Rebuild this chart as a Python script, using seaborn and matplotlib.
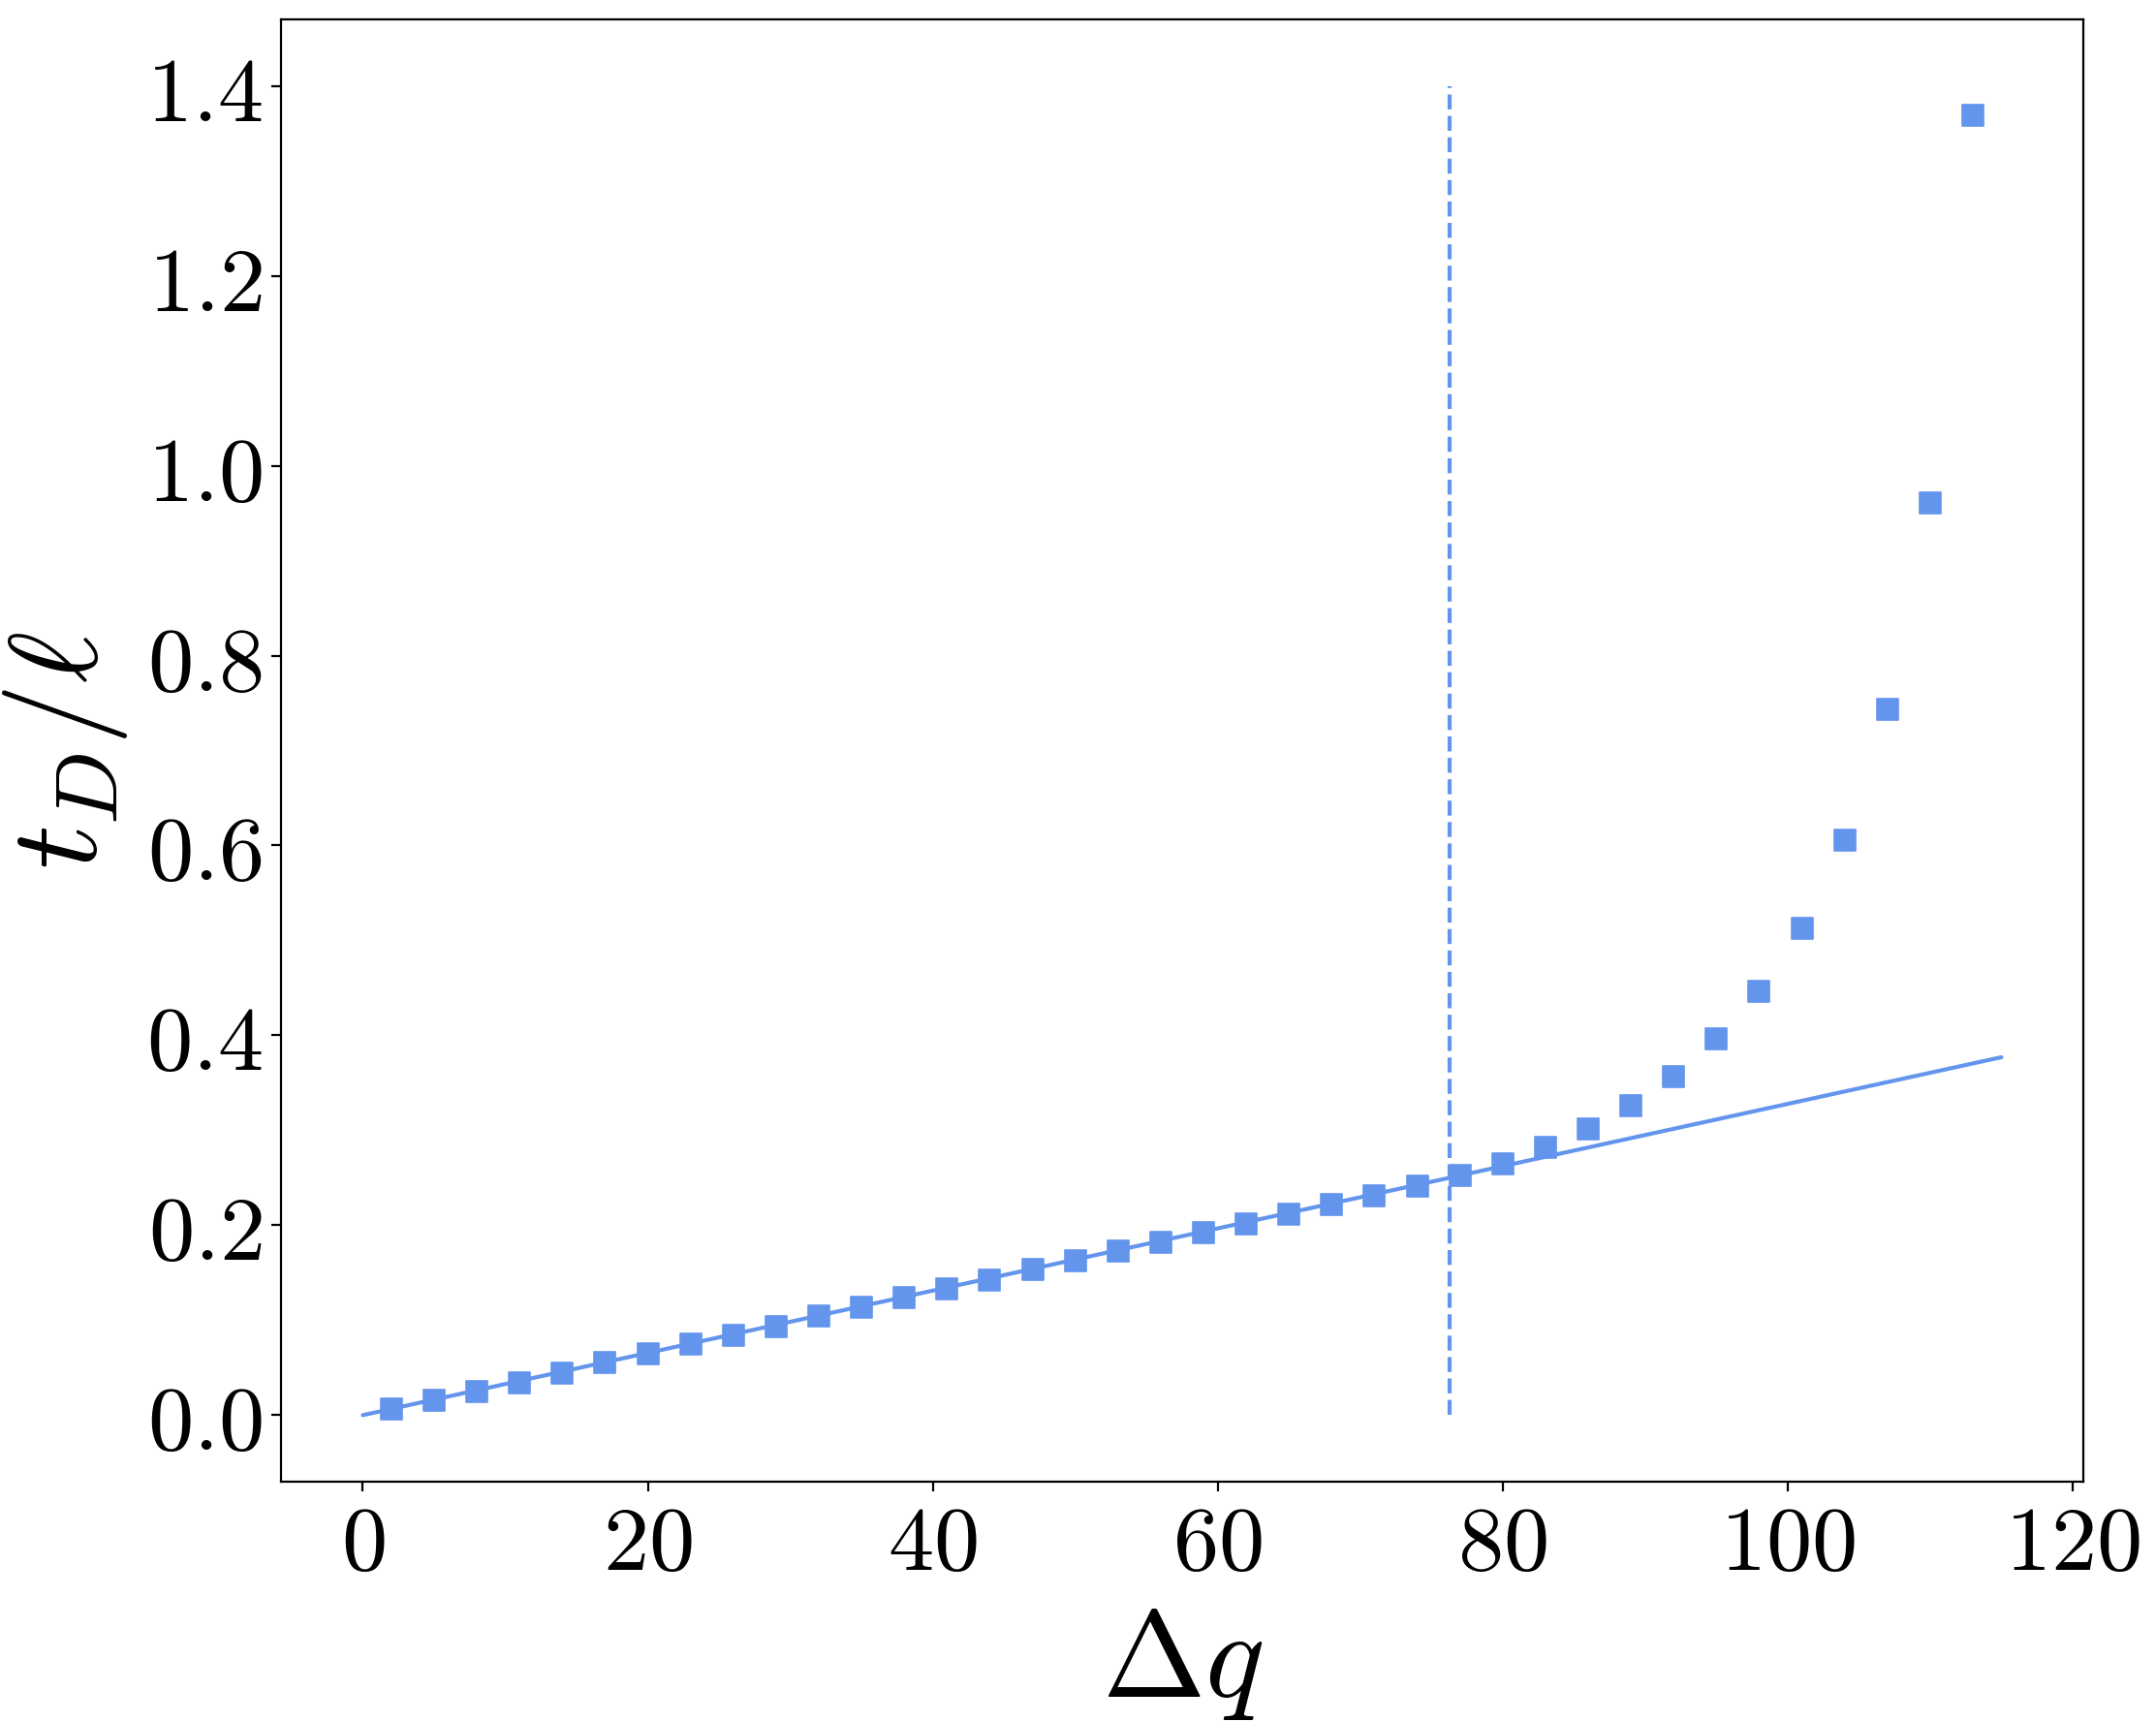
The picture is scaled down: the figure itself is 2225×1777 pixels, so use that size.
import numpy as np
import pandas as pd
import matplotlib
matplotlib.use("Agg")
import matplotlib.pyplot as plt
from matplotlib.ticker import FuncFormatter
import seaborn as sns

# Data
delta_q = [2, 5, 8, 11, 14, 17, 20, 23, 26, 29, 32, 35, 38, 41, 44, 47, 50, 53, 56,
           59, 62, 65, 68, 71, 74, 77, 80, 83, 86, 89, 92, 95, 98, 101, 104, 107, 110, 113]
t_over_l = [0.006, 0.016, 0.025, 0.034, 0.044, 0.055, 0.065, 0.075, 0.084, 0.093,
            0.104, 0.114, 0.124, 0.133, 0.142, 0.153, 0.163, 0.173, 0.182, 0.192,
            0.201, 0.212, 0.222, 0.231, 0.241, 0.252, 0.265, 0.282, 0.301, 0.326,
            0.357, 0.396, 0.446, 0.513, 0.606, 0.743, 0.961, 1.369]
fit_x = [0, 115]
fit_y = [0.0, 0.377]
vline_x = 76.3
vline_y = [0.0, 1.4]

color = "cornflowerblue"

sns.set_theme(style="ticks", rc={"text.color": "black", "axes.labelcolor": "black",
                                 "xtick.color": "black", "ytick.color": "black",
                                 "axes.edgecolor": "black"})
plt.rcParams["mathtext.fontset"] = "cm"
plt.rcParams["font.family"] = ["DejaVu Sans"]

fig = plt.figure(figsize=(11.125, 8.885), dpi=200)
ax = fig.add_axes([0.1303, 0.1396, 0.836, 0.8491])

df = pd.DataFrame({"dq": delta_q, "t": t_over_l})
fit_df = pd.DataFrame({"dq": fit_x, "t": fit_y})

sns.lineplot(data=fit_df, x="dq", y="t", ax=ax, color=color, lw=1.5)
ax.plot([vline_x, vline_x], vline_y, color=color, lw=1.5, ls="--")
sns.scatterplot(data=df, x="dq", y="t", ax=ax, marker="s", s=62,
                color=color, edgecolor=color, linewidth=0.6, zorder=3)

ax.set_yticks([0.0, 0.2, 0.4, 0.6, 0.8, 1.0, 1.2, 1.4])
ax.set_xticks([0, 20, 40, 60, 80, 100, 120])
ax.xaxis.set_major_formatter(FuncFormatter(lambda v, p: r"$%d$" % int(round(v))))
ax.yaxis.set_major_formatter(FuncFormatter(lambda v, p: r"$%.1f$" % v))
ax.tick_params(axis="both", labelsize=34, length=3.5, width=0.8, direction="out",
               colors="black")

ax.set_xlabel(r"$\Delta q$", fontsize=46, labelpad=4.5, color="black")
ax.set_ylabel(r"$t_D/\ell$", fontsize=46, labelpad=6, color="black")

for s in ax.spines.values():
    s.set_linewidth(0.8)
    s.set_color("black")

fig.savefig("out.png", dpi=200)
